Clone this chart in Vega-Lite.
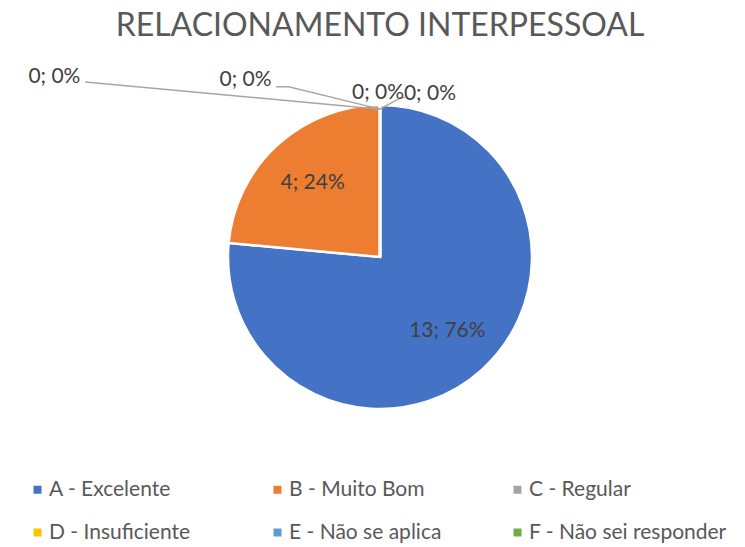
{
  "$schema": "https://vega.github.io/schema/vega-lite/v6.json",
  "width": 730,
  "height": 414,
  "padding": {"left": 15, "top": 10, "right": 0, "bottom": 0},
  "background": "white",
  "title": {"text": "RELACIONAMENTO INTERPESSOAL", "font": "Lato", "fontSize": 32, "fontWeight": "normal", "color": "#595959", "anchor": "middle", "offset": 7},
  "datasets": {
    "slices": [
      {"cat": "A - Excelente", "value": 13, "label": "13; 76%", "ord": 1},
      {"cat": "B - Muito Bom", "value": 4, "label": "4; 24%", "ord": 2},
      {"cat": "C - Regular", "value": 0, "label": "0; 0%", "ord": 3},
      {"cat": "D - Insuficiente", "value": 0, "label": "0; 0%", "ord": 4},
      {"cat": "E - Não se aplica", "value": 0, "label": "0; 0%", "ord": 5},
      {"cat": "F - Não sei responder", "value": 0, "label": "0; 0%", "ord": 6}
    ],
    "leaders": [
      {"cat": "C", "px": -2.02, "py": 1.184, "step": 1},
      {"cat": "C", "px": 0, "py": 1.0, "step": 2},
      {"cat": "D", "px": -0.711, "py": 1.151, "step": 1},
      {"cat": "D", "px": -0.625, "py": 1.151, "step": 2},
      {"cat": "D", "px": 0, "py": 1.0, "step": 3},
      {"cat": "F", "px": 0, "py": 1.0, "step": 1},
      {"cat": "F", "px": 0.145, "py": 1.079, "step": 2},
      {"cat": "F", "px": 0.171, "py": 1.079, "step": 3}
    ],
    "zeroLabels": [
      {"cat": "C", "px": -2.23, "py": 1.217, "label": "0; 0%"},
      {"cat": "D", "px": -0.921, "py": 1.197, "label": "0; 0%"},
      {"cat": "E", "px": -0.013, "py": 1.112, "label": "0; 0%"},
      {"cat": "F", "px": 0.342, "py": 1.105, "label": "0; 0%"}
    ]
  },
  "layer": [
    {
      "data": {"name": "slices"},
      "mark": {"type": "arc", "outerRadius": 152, "stroke": "white", "strokeWidth": 2.5},
      "encoding": {
        "theta": {"field": "value", "type": "quantitative", "stack": true},
        "order": {"field": "ord", "type": "quantitative"},
        "color": {
          "field": "cat", "type": "nominal",
          "scale": {
            "domain": ["A - Excelente", "B - Muito Bom", "C - Regular", "D - Insuficiente", "E - Não se aplica", "F - Não sei responder"],
            "range": ["#4472C4", "#ED7D31", "#A5A5A5", "#FFC000", "#5B9BD5", "#70AD47"]
          },
          "legend": {
            "title": null, "orient": "none", "legendX": 12, "legendY": 429, "direction": "horizontal", "columns": 3,
            "gridAlign": "all", "columnPadding": 20, "rowPadding": 21,
            "symbolType": "square", "symbolSize": 64, "symbolStrokeWidth": 0,
            "labelFont": "Lato", "labelFontSize": 21, "labelColor": "#595959", "labelLimit": 400, "labelOffset": 1
          }
        }
      }
    },
    {
      "data": {"name": "slices"},
      "transform": [{"filter": "datum.value > 0"}],
      "mark": {"type": "text", "radius": 100, "font": "Lato", "fontSize": 21, "color": "#404040"},
      "encoding": {
        "theta": {"field": "value", "type": "quantitative", "stack": true},
        "order": {"field": "ord", "type": "quantitative"},
        "text": {"field": "label"}
      }
    },
    {
      "data": {"name": "leaders"},
      "mark": {"type": "line", "color": "#A6A6A6", "strokeWidth": 1.5},
      "encoding": {
        "x": {"field": "px", "type": "quantitative", "scale": {"domain": [-2.4013, 2.4013]}, "axis": null},
        "y": {"field": "py", "type": "quantitative", "scale": {"domain": [-1.3618, 1.3618]}, "axis": null},
        "detail": {"field": "cat"},
        "order": {"field": "step", "type": "quantitative"}
      }
    },
    {
      "data": {"name": "zeroLabels"},
      "mark": {"type": "text", "font": "Lato", "fontSize": 21, "color": "#404040"},
      "encoding": {
        "x": {"field": "px", "type": "quantitative"},
        "y": {"field": "py", "type": "quantitative"},
        "text": {"field": "label"}
      }
    }
  ],
  "config": {"view": {"stroke": null}}
}
